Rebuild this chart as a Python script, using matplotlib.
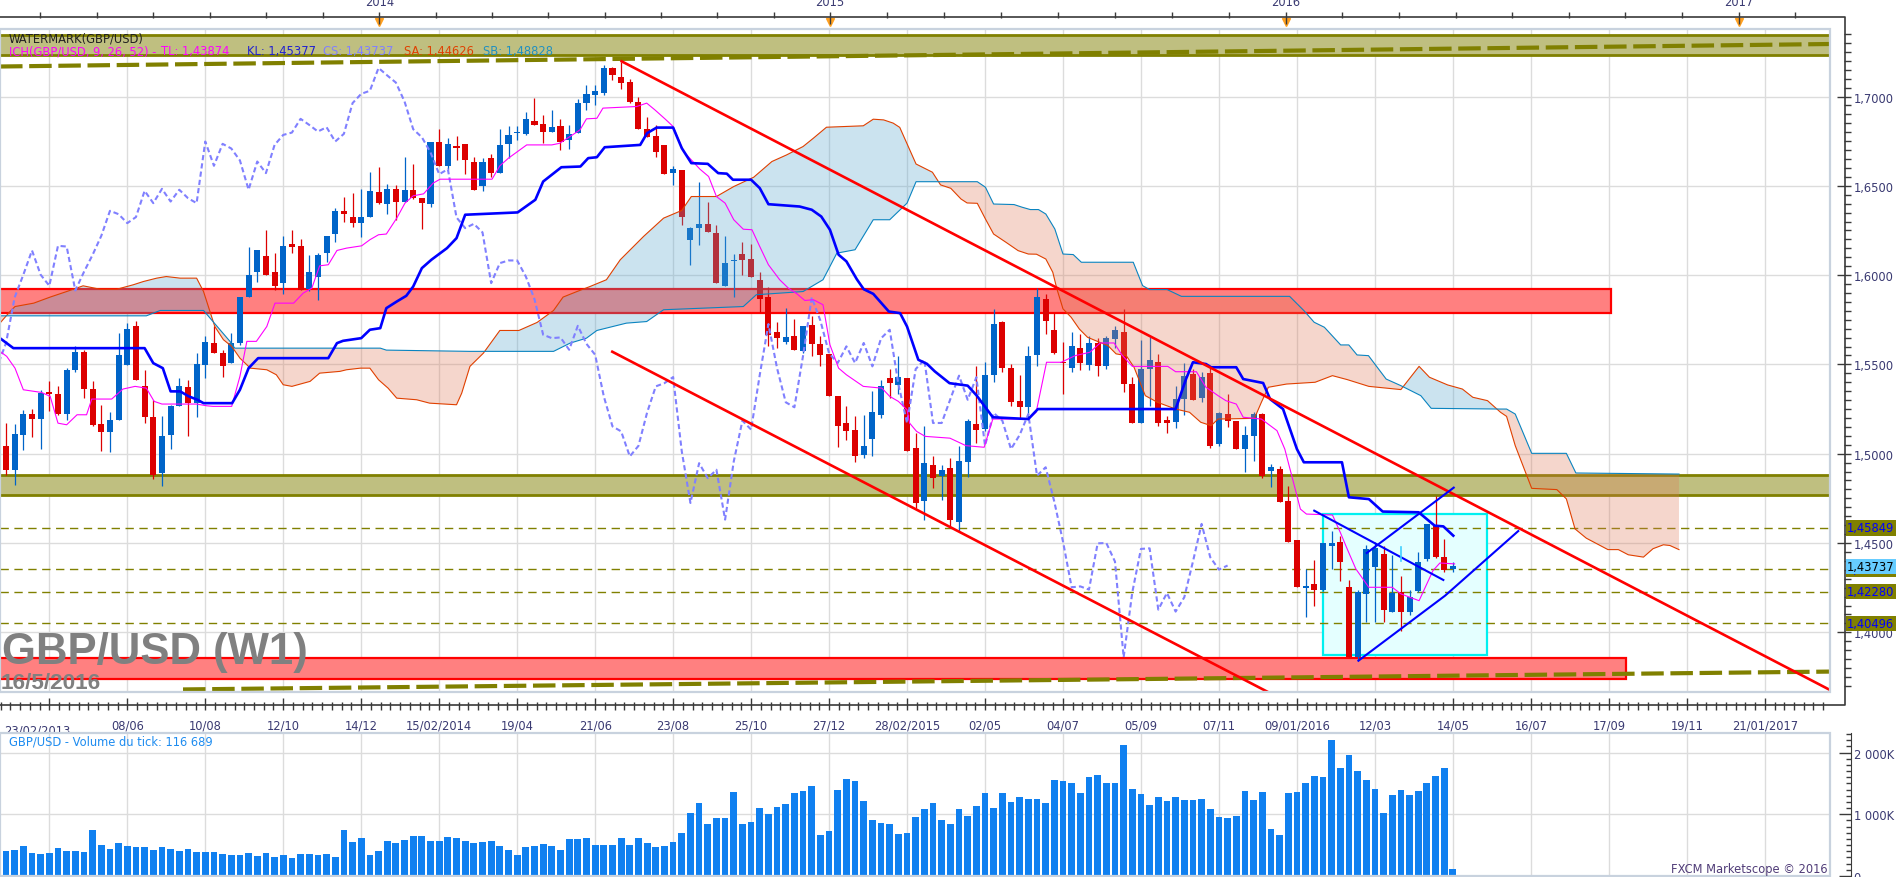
import numpy as np
import matplotlib
matplotlib.use('Agg')
import matplotlib.pyplot as plt
from matplotlib.patches import Rectangle
from matplotlib.lines import Line2D
from matplotlib.ticker import FixedLocator, FuncFormatter

# ---------------- données (bougies hebdo, index de semaine) ----------------
opens = [1.5041, 1.4906, 1.5106, 1.5224, 1.5196, 1.5343, 1.5336, 1.5224, 1.5466, 1.5567,
         1.5362, 1.5168, 1.5119, 1.5190, 1.5498, 1.5713, 1.5377, 1.5203, 1.4891, 1.5106,
         1.5265, 1.5373, 1.5283, 1.5498, 1.5619, 1.5563, 1.5507, 1.5619, 1.5875, 1.6015,
         1.6108, 1.6015, 1.5955, 1.6175, 1.6164, 1.5922, 1.5992, 1.6123, 1.6229, 1.6360,
         1.6325, 1.6291, 1.6328, 1.6464, 1.6397, 1.6483, 1.6412, 1.6474, 1.6431, 1.6399,
         1.6748, 1.6612, 1.6724, 1.6735, 1.6636, 1.6497, 1.6655, 1.6571, 1.6735, 1.6795,
         1.6791, 1.6864, 1.6845, 1.6804, 1.6836, 1.6757, 1.6798, 1.6966, 1.7009, 1.7019,
         1.7160, 1.7108, 1.7084, 1.6968, 1.6817, 1.6780, 1.6729, 1.6571, 1.6590, 1.6198,
         1.6263, 1.6287, 1.6235, 1.5940, 1.6078, 1.6119, 1.6089, 1.5970, 1.5880, 1.5681,
         1.5628, 1.5657, 1.5573, 1.5722, 1.5615, 1.5559, 1.5324, 1.5171, 1.5134, 1.4994,
         1.5082, 1.5218, 1.5423, 1.5386, 1.5423, 1.5032, 1.4733, 1.4938, 1.4873, 1.4920,
         1.4620, 1.4955, 1.5166, 1.5138, 1.5441, 1.5739, 1.5478, 1.5293, 1.5260, 1.5553,
         1.5866, 1.5694, 1.5515, 1.5478, 1.5590, 1.5497, 1.5620, 1.5493, 1.5642, 1.5680,
         1.5390, 1.5172, 1.5474, 1.5512, 1.5189, 1.5179, 1.5306, 1.5446, 1.5310, 1.5452,
         1.5054, 1.5222, 1.5185, 1.5026, 1.5101, 1.5222, 1.4905, 1.4914, 1.4737, 1.4519,
         1.4250, 1.4271, 1.4239, 1.4485, 1.4508, 1.4252, 1.3860, 1.4215, 1.4364, 1.4439,
         1.4116, 1.4228, 1.4112, 1.4233, 1.4411, 1.4601, 1.4420, 1.4355]
highs = [1.5171, 1.5167, 1.5242, 1.5252, 1.5358, 1.5405, 1.5377, 1.5480, 1.5601, 1.5582,
         1.5405, 1.5274, 1.5231, 1.5675, 1.5731, 1.5741, 1.5470, 1.5302, 1.5212, 1.5274,
         1.5423, 1.5410, 1.5563, 1.5657, 1.5713, 1.5582, 1.5675, 1.5875, 1.6160, 1.6142,
         1.6254, 1.6123, 1.6220, 1.6254, 1.6201, 1.6114, 1.6123, 1.6220, 1.6375, 1.6440,
         1.6459, 1.6483, 1.6575, 1.6603, 1.6511, 1.6505, 1.6664, 1.6623, 1.6431, 1.6748,
         1.6817, 1.6765, 1.6780, 1.6735, 1.6664, 1.6655, 1.6679, 1.6817, 1.6836, 1.6836,
         1.6916, 1.6994, 1.6897, 1.6922, 1.6875, 1.6841, 1.6985, 1.7062, 1.7065, 1.7177,
         1.7164, 1.7192, 1.7097, 1.6996, 1.6884, 1.6841, 1.6729, 1.6612, 1.6590, 1.6272,
         1.6520, 1.6409, 1.6282, 1.6220, 1.6119, 1.6183, 1.6175, 1.6020, 1.5936, 1.5735,
         1.5815, 1.5753, 1.5716, 1.5772, 1.5660, 1.5559, 1.5324, 1.5265, 1.5209, 1.5218,
         1.5349, 1.5414, 1.5474, 1.5545, 1.5423, 1.5115, 1.5153, 1.4988, 1.4938, 1.4974,
         1.5045, 1.5194, 1.5493, 1.5515, 1.5810, 1.5745, 1.5502, 1.5441, 1.5601, 1.5926,
         1.5894, 1.5788, 1.5624, 1.5680, 1.5670, 1.5657, 1.5646, 1.5657, 1.5717, 1.5810,
         1.5428, 1.5638, 1.5652, 1.5558, 1.5213, 1.5381, 1.5508, 1.5474, 1.5459, 1.5478,
         1.5235, 1.5334, 1.5185, 1.5157, 1.5235, 1.5228, 1.4942, 1.4933, 1.4817, 1.4519,
         1.4355, 1.4407, 1.4500, 1.4569, 1.4537, 1.4295, 1.4239, 1.4489, 1.4504, 1.4485,
         1.4433, 1.4313, 1.4239, 1.4448, 1.4607, 1.4765, 1.4523, 1.4392]
lows = [1.4882, 1.4826, 1.5022, 1.5091, 1.5026, 1.5237, 1.5214, 1.5190, 1.5460, 1.5311,
        1.5153, 1.5013, 1.5007, 1.5186, 1.5498, 1.5410, 1.5171, 1.4858, 1.4817, 1.5026,
        1.5265, 1.5100, 1.5205, 1.5423, 1.5563, 1.5429, 1.5507, 1.5610, 1.5875, 1.5959,
        1.6002, 1.5918, 1.5895, 1.6123, 1.5914, 1.5910, 1.5858, 1.6071, 1.6188, 1.6300,
        1.6269, 1.6216, 1.6328, 1.6397, 1.6341, 1.6310, 1.6412, 1.6425, 1.6257, 1.6384,
        1.6612, 1.6589, 1.6645, 1.6567, 1.6478, 1.6472, 1.6548, 1.6571, 1.6655, 1.6757,
        1.6782, 1.6841, 1.6739, 1.6804, 1.6698, 1.6705, 1.6798, 1.6922, 1.6953, 1.7009,
        1.7090, 1.7041, 1.6966, 1.6817, 1.6772, 1.6664, 1.6565, 1.6502, 1.6282, 1.6054,
        1.6166, 1.6239, 1.5955, 1.5940, 1.5877, 1.6002, 1.5992, 1.5796, 1.5601, 1.5591,
        1.5615, 1.5578, 1.5563, 1.5548, 1.5489, 1.5321, 1.5037, 1.5078, 1.4951, 1.4976,
        1.4985, 1.5199, 1.5311, 1.5334, 1.5013, 1.4696, 1.4630, 1.4807, 1.4742, 1.4588,
        1.4569, 1.4868, 1.5060, 1.5129, 1.5400, 1.5456, 1.5269, 1.5194, 1.5194, 1.5493,
        1.5670, 1.5558, 1.5334, 1.5456, 1.5471, 1.5471, 1.5437, 1.5474, 1.5590, 1.5344,
        1.5172, 1.5172, 1.5269, 1.5157, 1.5116, 1.5142, 1.5217, 1.5302, 1.5288, 1.5030,
        1.5045, 1.5148, 1.5026, 1.4899, 1.4961, 1.4862, 1.4812, 1.4731, 1.4504, 1.4252,
        1.4084, 1.4149, 1.4233, 1.4355, 1.4289, 1.3860, 1.3841, 1.4056, 1.4056, 1.4060,
        1.4116, 1.4009, 1.4097, 1.4224, 1.4401, 1.4414, 1.4340, 1.4336]
closes = [1.4910, 1.5110, 1.5224, 1.5196, 1.5339, 1.5332, 1.5224, 1.5470, 1.5567, 1.5362,
          1.5162, 1.5119, 1.5190, 1.5554, 1.5698, 1.5410, 1.5205, 1.4882, 1.5097, 1.5265,
          1.5380, 1.5283, 1.5503, 1.5623, 1.5563, 1.5489, 1.5619, 1.5875, 1.6002, 1.6138,
          1.6002, 1.5940, 1.6164, 1.6160, 1.5914, 1.6018, 1.6114, 1.6220, 1.6360, 1.6341,
          1.6291, 1.6325, 1.6472, 1.6403, 1.6483, 1.6412, 1.6478, 1.6431, 1.6403, 1.6748,
          1.6612, 1.6735, 1.6709, 1.6642, 1.6478, 1.6636, 1.6571, 1.6729, 1.6785, 1.6798,
          1.6875, 1.6841, 1.6804, 1.6828, 1.6748, 1.6791, 1.6963, 1.7015, 1.7032, 1.7160,
          1.7118, 1.7078, 1.6972, 1.6817, 1.6772, 1.6687, 1.6565, 1.6593, 1.6323, 1.6263,
          1.6287, 1.6239, 1.5955, 1.6067, 1.6082, 1.6082, 1.5992, 1.5865, 1.5666, 1.5647,
          1.5651, 1.5582, 1.5716, 1.5615, 1.5554, 1.5321, 1.5153, 1.5125, 1.4985, 1.5044,
          1.5231, 1.5377, 1.5395, 1.5429, 1.5013, 1.4724, 1.4947, 1.4863, 1.4910, 1.4631,
          1.4957, 1.5185, 1.5135, 1.5441, 1.5726, 1.5478, 1.5288, 1.5260, 1.5549, 1.5875,
          1.5745, 1.5562, 1.5508, 1.5601, 1.5508, 1.5620, 1.5489, 1.5646, 1.5694, 1.5390,
          1.5172, 1.5474, 1.5526, 1.5172, 1.5172, 1.5306, 1.5437, 1.5302, 1.5428, 1.5045,
          1.5228, 1.5185, 1.5026, 1.5105, 1.5222, 1.4877, 1.4924, 1.4731, 1.4508, 1.4252,
          1.4257, 1.4239, 1.4498, 1.4500, 1.4396, 1.3860, 1.4224, 1.4467, 1.4470, 1.4127,
          1.4220, 1.4116, 1.4196, 1.4396, 1.4607, 1.4420, 1.4351, 1.4374]

# volume du tick (millions), semaines -1 .. 167
volumes = [0.502,
           0.410, 0.421, 0.486, 0.373, 0.357, 0.373, 0.454, 0.405, 0.405, 0.389,
           0.751, 0.502, 0.437, 0.535, 0.486, 0.470, 0.470, 0.421, 0.470, 0.437,
           0.405, 0.437, 0.389, 0.389, 0.389, 0.357, 0.340, 0.340, 0.373, 0.324,
           0.373, 0.308, 0.340, 0.292, 0.357, 0.357, 0.340, 0.357, 0.308, 0.746,
           0.551, 0.616, 0.340, 0.405, 0.567, 0.535, 0.583, 0.648, 0.648, 0.567,
           0.567, 0.632, 0.616, 0.567, 0.535, 0.551, 0.567, 0.486, 0.421, 0.340,
           0.470, 0.486, 0.519, 0.486, 0.421, 0.600, 0.600, 0.616, 0.502, 0.502,
           0.502, 0.616, 0.502, 0.616, 0.535, 0.470, 0.486, 0.551, 0.697, 1.021,
           1.183, 0.843, 0.940, 0.940, 1.362, 0.843, 0.875, 1.102, 1.005, 1.118,
           1.167, 1.345, 1.383, 1.459, 0.665, 0.729, 1.394, 1.572, 1.540, 1.216,
           0.908, 0.859, 0.843, 0.681, 0.697, 0.956, 1.086, 1.183, 0.908, 0.843,
           1.086, 0.973, 1.135, 1.345, 1.102, 1.345, 1.200, 1.281, 1.248, 1.248,
           1.183, 1.556, 1.540, 1.507, 1.345, 1.605, 1.637, 1.507, 1.507, 2.124,
           1.410, 1.329, 1.151, 1.281, 1.216, 1.281, 1.232, 1.232, 1.248, 1.086,
           0.956, 0.940, 0.973, 1.378, 1.232, 1.362, 0.762, 0.665, 1.345, 1.362,
           1.507, 1.621, 1.605, 2.205, 1.750, 1.961, 1.702, 1.556, 1.410, 1.021,
           1.313, 1.394, 1.313, 1.378, 1.507, 1.621, 1.750, 0.117]

# Ichimoku : points lus (semaine, prix)
kijun_w = [-0.7, 0.85, 16.0, 17.0, 18.1, 19.0, 20.1, 21.1, 22.1, 22.8, 26.1, 27.0, 28.0, 29.1,
           37.2, 38.2, 38.9, 41.0, 42.0, 43.2, 43.9, 45.1, 46.2, 47.0, 48.0, 49.1, 50.9, 52.0,
           53.0, 59.05, 61.1, 62.0, 64.1, 66.3, 67.2, 68.2, 69.1, 73.2, 74.0, 75.1, 77.0, 78.0,
           79.1, 81.0, 82.2, 83.2, 83.9, 86.0, 87.0, 88.0, 91.6, 93.0, 94.1, 95.1, 96.1, 97.0,
           98.2, 99.0, 100.1, 101.9, 103.2, 104.0, 105.3, 106.3, 107.2, 108.9, 111.0, 112.05,
           113.9, 118.0, 119.1, 135.0, 136.2, 137.0, 138.5, 139.1, 142.0, 142.8, 145.1, 145.9,
           147.4, 149.0, 149.8, 154.2, 155.0, 157.3, 158.9, 163.05, 164.9, 165.9, 167.05]
kijun_v = [1.5647, 1.5591, 1.5591, 1.5507, 1.5479, 1.5349, 1.5349, 1.5321, 1.5302, 1.5283,
           1.5283, 1.5358, 1.5479, 1.5535, 1.5535, 1.5619, 1.5632, 1.5647, 1.5694, 1.5703,
           1.5815, 1.5852, 1.5884, 1.5936, 1.6039, 1.6086, 1.6151, 1.6207, 1.6338, 1.6351,
           1.6422, 1.6524, 1.6604, 1.6608, 1.6655, 1.6660, 1.6716, 1.6729, 1.6795, 1.6826,
           1.6826, 1.6711, 1.6627, 1.6623, 1.6571, 1.6568, 1.6534, 1.6534, 1.6487, 1.6397,
           1.6384, 1.6366, 1.6328, 1.6254, 1.6114, 1.6077, 1.5977, 1.5921, 1.5895, 1.5796,
           1.5787, 1.5712, 1.5526, 1.5503, 1.5461, 1.5395, 1.5381, 1.5325, 1.5204, 1.5194,
           1.5250, 1.5250, 1.5418, 1.5512, 1.5502, 1.5484, 1.5484, 1.5418, 1.5396, 1.5306,
           1.5250, 1.5026, 1.4952, 1.4952, 1.4756, 1.4746, 1.4676, 1.4672, 1.4597, 1.4593,
           1.4541]

tenkan_w = [-0.7, 0.08, 1.04, 2.0, 4.1, 5.1, 6.0, 7.0, 8.2, 9.3, 9.9, 12.2, 13.5, 14.9, 16.2,
            17.1, 18.0, 22.0, 23.2, 23.9, 26.05, 27.0, 27.8, 28.9, 30.1, 31.05, 33.2, 34.3,
            35.3, 36.2, 37.2, 38.2, 39.3, 41.05, 42.0, 43.0, 43.9, 45.1, 46.05, 47.0, 48.2,
            49.3, 50.1, 56.1, 57.0, 58.0, 60.1, 63.0, 63.9, 65.1, 66.25, 67.0, 68.2, 68.9,
            72.8, 73.95, 74.9, 76.1, 77.0, 78.2, 79.1, 80.1, 81.1, 82.0, 83.0, 84.0, 85.1,
            86.1, 87.0, 88.0, 89.3, 90.3, 91.3, 92.2, 93.2, 94.3, 95.1, 96.1, 97.0, 98.95,
            101.1, 102.0, 103.0, 104.0, 104.3, 105.1, 106.1, 108.95, 110.8, 112.9, 113.9,
            118.0, 118.9, 120.1, 121.8, 123.4, 125.1, 126.3, 127.9, 128.8, 130.0, 134.1,
            135.0, 137.4, 138.5, 139.9, 140.8, 142.0, 142.8, 144.9, 146.7, 147.6, 148.6,
            149.4, 150.1, 153.1, 154.0, 154.8, 155.8, 157.3, 160.0, 161.0, 163.1, 163.9,
            164.7, 165.5, 167.2]
tenkan_v = [1.5573, 1.5545, 1.5479, 1.5358, 1.5343, 1.5321, 1.5171, 1.5162, 1.5218, 1.5218,
            1.5306, 1.5306, 1.5362, 1.5377, 1.5367, 1.5293, 1.5278, 1.5278, 1.5268, 1.5265,
            1.5265, 1.5433, 1.5629, 1.5629, 1.5712, 1.5843, 1.5843, 1.5899, 1.5927, 1.6052,
            1.6058, 1.6138, 1.6151, 1.6164, 1.6198, 1.6226, 1.6230, 1.6319, 1.6403, 1.6444,
            1.6455, 1.6515, 1.6537, 1.6537, 1.6612, 1.6655, 1.6729, 1.6729, 1.6738, 1.6776,
            1.6813, 1.6875, 1.6878, 1.6935, 1.6944, 1.6963, 1.6925, 1.6873, 1.6832, 1.6692,
            1.6645, 1.6593, 1.6552, 1.6440, 1.6403, 1.6310, 1.6257, 1.6254, 1.6160, 1.6058,
            1.5974, 1.5927, 1.5895, 1.5858, 1.5862, 1.5834, 1.5610, 1.5479, 1.5442, 1.5377,
            1.5367, 1.5321, 1.5293, 1.5246, 1.5171, 1.5125, 1.5097, 1.5087, 1.5045, 1.5036,
            1.5194, 1.5194, 1.5232, 1.5512, 1.5512, 1.5549, 1.5568, 1.5620, 1.5620, 1.5553,
            1.5489, 1.5489, 1.5459, 1.5459, 1.5372, 1.5325, 1.5297, 1.5278, 1.5204, 1.5194,
            1.5129, 1.5026, 1.4840, 1.4690, 1.4662, 1.4657, 1.4560, 1.4467, 1.4355, 1.4252,
            1.4252, 1.4215, 1.4177, 1.4261, 1.4345, 1.4388, 1.4383]

senkou_a_w = [-0.7, 0.46, 1.04, 3.2, 5.1, 7.0, 8.9, 10.85, 12.8, 14.7, 15.85, 17.4, 18.5, 20.1,
              22.0, 22.8, 23.55, 24.1, 25.1, 26.05, 27.0, 28.2, 30.1, 31.2, 32.0, 33.0, 35.1,
              36.2, 38.55, 39.3, 40.9, 42.0, 43.0, 44.1, 45.1, 47.4, 48.9, 52.0, 52.6, 53.55,
              55.1, 57.0, 59.2, 61.3, 63.2, 64.3, 65.9, 67.4, 69.3, 70.9, 73.6, 75.9, 78.0,
              79.1, 82.0, 84.0, 86.3, 88.4, 90.1, 92.0, 93.2, 94.7, 98.95, 100.1, 101.3,
              102.4, 103.16, 105.04, 106.93, 107.87, 109.05, 110.23, 110.93, 112.11, 113.05,
              113.99, 115.41, 116.82, 118.0, 118.94, 120.02, 120.82, 121.3, 122.0, 122.94,
              123.89, 124.83, 125.77, 127.19, 128.13, 129.3, 130.2, 131.5, 132.9, 135.0,
              136.6, 137.9, 139.1, 139.9, 144.1, 144.9, 145.7, 147.8, 151.1, 153.1, 154.8,
              157.3, 161.0, 163.1, 164.3, 166.4, 168.1, 169.3, 171.0, 172.5, 173.2, 174.2,
              176.1, 179.0, 180.1, 181.1, 182.4, 184.0, 184.9, 186.1, 187.25, 189.0, 190.1,
              191.3, 192.05, 193.1]
senkou_a_v = [1.5731, 1.5796, 1.5824, 1.5843, 1.5877, 1.5908, 1.5940, 1.5921, 1.5921, 1.5946,
              1.5964, 1.5983, 1.5992, 1.5983, 1.5983, 1.5908, 1.5796, 1.5712, 1.5638, 1.5601,
              1.5535, 1.5479, 1.5470, 1.5442, 1.5386, 1.5377, 1.5405, 1.5451, 1.5461, 1.5470,
              1.5479, 1.5479, 1.5414, 1.5367, 1.5311, 1.5302, 1.5283, 1.5274, 1.5339, 1.5489,
              1.5563, 1.5690, 1.5690, 1.5735, 1.5802, 1.5877, 1.5908, 1.5936, 1.5974, 1.6086,
              1.6217, 1.6319, 1.6362, 1.6440, 1.6440, 1.6496, 1.6548, 1.6636, 1.6673, 1.6720,
              1.6767, 1.6828, 1.6836, 1.6873, 1.6869, 1.6851, 1.6827, 1.6622, 1.6576, 1.6505,
              1.6486, 1.6426, 1.6404, 1.6402, 1.6314, 1.6230, 1.6184, 1.6137, 1.6118, 1.6117,
              1.6090, 1.6016, 1.5922, 1.5811, 1.5764, 1.5698, 1.5652, 1.5633, 1.5605, 1.5559,
              1.5549, 1.5484, 1.5325, 1.5288, 1.5250, 1.5232, 1.5176, 1.5157, 1.5194, 1.5198,
              1.5288, 1.5372, 1.5390, 1.5400, 1.5437, 1.5415, 1.5377, 1.5359, 1.5489, 1.5428,
              1.5385, 1.5362, 1.5316, 1.5297, 1.5232, 1.5209, 1.5045, 1.4806, 1.4799, 1.4747,
              1.4579, 1.4527, 1.4486, 1.4463, 1.4463, 1.4434, 1.4421, 1.4468, 1.4490, 1.4486,
              1.4463]

senkou_b_w = [-0.7, 16.2, 17.8, 22.8, 24.7, 25.85, 26.4, 43.2, 43.9, 53.55, 63.2, 65.1, 67.0,
              68.2, 71.6, 73.95, 75.9, 85.1, 86.6, 92.0, 94.3, 95.9, 98.0, 100.1, 102.0,
              104.0, 105.04, 112.11, 113.05, 113.99, 116.35, 117.29, 118.23, 119.17, 120.02,
              121.06, 122.0, 123.18, 124.12, 130.11, 131.19, 131.99, 134.02, 135.67, 148.16,
              149.81, 150.99, 152.17, 154.05, 154.99, 155.94, 157.26, 159.3, 161.0, 163.3,
              164.5, 172.5, 173.2, 174.2, 176.1, 180.1, 181.2, 193.1]
senkou_b_v = [1.5772, 1.5772, 1.5802, 1.5802, 1.5694, 1.5629, 1.5591, 1.5591, 1.5580, 1.5573,
              1.5573, 1.5619, 1.5647, 1.5690, 1.5731, 1.5740, 1.5806, 1.5824, 1.5890, 1.5908,
              1.5974, 1.6123, 1.6142, 1.6310, 1.6310, 1.6403, 1.6523, 1.6523, 1.6492, 1.6398,
              1.6395, 1.6380, 1.6367, 1.6367, 1.6342, 1.6258, 1.6118, 1.6115, 1.6072, 1.6072,
              1.5941, 1.5919, 1.5919, 1.5881, 1.5881, 1.5801, 1.5736, 1.5708, 1.5609, 1.5609,
              1.5553, 1.5549, 1.5418, 1.5381, 1.5325, 1.5254, 1.5250, 1.5250, 1.5222, 1.5002,
              1.5002, 1.4892, 1.4886]

# tracés manuels (semaine, prix)
band_top = (1.7233, 1.7345)
band_mid = (1.4769, 1.4882)
red_high = (1.5786, 1.5920, 185.25)
red_low = (1.3741, 1.3857, 186.98)
hlevels = [1.45849, 1.4354, 1.42280, 1.40496]
trend_up_w, trend_up_p = [71.06, 210.45], [1.7197, 1.3679]
trend_lo_w, trend_lo_p = [69.98, 145.6], [1.5571, 1.3667]
wedge1_w, wedge1_p = [151.0, 165.9], [1.4681, 1.4293]
wedge2_w, wedge2_p = [157.06, 167.1], [1.4444, 1.4810]
wedge3_w, wedge3_p = [156.1, 166.1, 174.55], [1.3841, 1.4205, 1.4567]
box_w, box_p = (152.0, 170.97), (1.3873, 1.4662)
olive_up_w, olive_up_p = [-0.69, 210.53], [1.7168, 1.7294]
olive_lo_w, olive_lo_p = [20.43, 210.53], [1.3680, 1.3780]

date_labels = ['', '08/06', '10/08', '12/10', '14/12', '15/02/2014', '19/04', '21/06', '23/08',
               '25/10', '27/12', '28/02/2015', '02/05', '04/07', '05/09', '07/11', '09/01/2016',
               '12/03', '14/05', '16/07', '17/09', '19/11', '21/01/2017']
year_labels = ['2014', '2015', '2016', '2017']
year_w = [43.1, 95.1, 147.7, 200.0]

# ---------------- figure ----------------
W, H = 1903, 878
fig = plt.figure(figsize=(W / 100, H / 100), dpi=100)
fig.patch.set_facecolor('white')

def fx(px):
    return px / W

def fy(py):
    return 1 - py / H

ax = fig.add_axes([0, fy(693), fx(1830), (693 - 30) / H])
axv = fig.add_axes([0, fy(877), fx(1830), (877 - 734) / H], sharex=ax)

XMIN, XMAX = -0.6925, 210.53
ax.set_xlim(XMIN, XMAX)
ax.set_ylim(1.36657, 1.73780)
axv.set_ylim(0, (877 - 734) / 61.7)

UP, DN = '#0064C8', '#DC0000'
OLIVE = '#808000'
TICKC = '#3A3A3A'
LABC = '#3A3A72'
FS = 8.3

# grilles
major_w = 5 + 9 * np.arange(len(date_labels))
for a in (ax, axv):
    a.set_axisbelow(True)
    a.grid(True, color='#DCDCDC', lw=1)
ax.xaxis.set_major_locator(FixedLocator(major_w))
ax.xaxis.set_minor_locator(FixedLocator(np.arange(5 - 9, 212, 9 / 8)))
ax.xaxis.set_major_formatter(FuncFormatter(lambda v, p: date_labels[int(round((v - 5) / 9))]
                                           if 0 <= round((v - 5) / 9) < len(date_labels) else ''))
ax.yaxis.set_major_locator(FixedLocator(np.arange(1.40, 1.7001, 0.05)))
ax.yaxis.set_minor_locator(FixedLocator(np.arange(1.37, 1.7376, 0.005)))
ax.yaxis.set_major_formatter(FuncFormatter(lambda v, p: f'{v:.4f}'.replace('.', ',')))

# bandes
ax.axhspan(*band_top, color='#BFBF80', lw=0, zorder=1)
for yy in band_top:
    ax.axhline(yy, color=OLIVE, lw=2, zorder=1.2)
ax.axhspan(*band_mid, color='#BFBF80', lw=0, zorder=1)
for yy in band_mid:
    ax.axhline(yy, color=OLIVE, lw=2, zorder=1.2)
for lo, hi, xr in (red_high, red_low):
    ax.add_patch(Rectangle((XMIN - 1, lo), xr - XMIN + 1, hi - lo, fc='#FF8080', ec='#FF0000',
                           lw=1.6, zorder=1))
ax.add_patch(Rectangle((box_w[0], box_p[0]), box_w[1] - box_w[0], box_p[1] - box_p[0],
                       fc='#E4FFFF', ec='#00F0F0', lw=1.6, zorder=1.5))

for lv in hlevels:
    ax.axhline(lv, color=OLIVE, lw=1, ls=(0, (6, 4)), zorder=2)
ax.plot(olive_up_w, olive_up_p, color=OLIVE, lw=3, ls=(0, (5.4, 1.6)), zorder=2)
ax.plot(olive_lo_w, olive_lo_p, color=OLIVE, lw=3, ls=(0, (5.4, 1.6)), zorder=2)

# bougies
o, h, l, c = map(np.array, (opens, highs, lows, closes))
wk = np.arange(len(o))
col = np.where(c >= o, UP, DN)
ax.vlines(wk, l, h, colors=col, lw=0.9, zorder=3)
ax.bar(wk, np.maximum(np.abs(c - o), 0.0008), bottom=np.minimum(o, c), width=0.7,
       color=col, lw=0, zorder=3)

# nuage
gx = np.union1d(senkou_a_w, senkou_b_w)
ga = np.interp(gx, senkou_a_w, senkou_a_v)
gb = np.interp(gx, senkou_b_w, senkou_b_v)
ax.fill_between(gx, ga, gb, where=ga >= gb, interpolate=True, color='#55A5CD', alpha=0.3,
                lw=0, zorder=3.5)
ax.fill_between(gx, ga, gb, where=ga < gb, interpolate=True, color='#DE7A58', alpha=0.3,
                lw=0, zorder=3.5)
ax.plot(senkou_a_w, senkou_a_v, color='#E04000', lw=0.8, zorder=4)
ax.plot(senkou_b_w, senkou_b_v, color='#0A84C0', lw=0.8, zorder=4)

# chikou = clôtures décalées de 26 semaines
ax.plot(wk[25:] - 26, c[25:], color='#8080FF', lw=1.5, ls=(0, (2.5, 1.5)), zorder=4)
ax.plot(tenkan_w, tenkan_v, color='#FF00FF', lw=0.8, zorder=4.2)
ax.plot(kijun_w, kijun_v, color='#0000FF', lw=1.9, zorder=4.3)

# lignes de tendance
ax.plot(trend_up_w, trend_up_p, color='#FF0000', lw=1.9, zorder=5)
ax.plot(trend_lo_w, trend_lo_p, color='#FF0000', lw=1.9, zorder=5)
for ww, pp in ((wedge1_w, wedge1_p), (wedge2_w, wedge2_p), (wedge3_w, wedge3_p)):
    ax.plot(ww, pp, color='#0000FF', lw=1.5, zorder=5)
ax.plot([161.0, 161.0], [1.4401, 1.4480], color='#40D0FF', lw=1.2, zorder=5)

# volume
vw = np.arange(-1, len(volumes) - 1)
axv.bar(vw, volumes, width=0.78, color='#1080F0', lw=0, zorder=3)
axv.yaxis.set_major_locator(FixedLocator([0, 1, 2]))
axv.yaxis.set_minor_locator(FixedLocator(np.arange(0, 2.32, 0.1)))
axv.yaxis.set_major_formatter(FuncFormatter(lambda v, p: {0: '0', 1: '1 000K', 2: '2 000K'}.get(int(round(v)), '')))

# axes / ticks
for a in (ax, axv):
    a.yaxis.tick_right()
    a.spines['right'].set_position(('outward', 15))
    for s in ('left', 'top', 'bottom', 'right'):
        a.spines[s].set_visible(False)
    a.add_patch(Rectangle((0, 0), 1, 1, transform=a.transAxes, fill=False, ec='#C8D2DE',
                          lw=1.6, clip_on=False, zorder=6))
ax.spines['bottom'].set_position(('outward', 13))
ax.tick_params(axis='y', which='major', direction='in', length=10, width=1, color=TICKC,
               labelsize=FS, labelcolor=LABC, pad=2, right=True, left=False)
ax.tick_params(axis='y', which='minor', direction='in', length=5, width=1, color=TICKC, right=True, left=False)
ax.tick_params(axis='x', which='major', direction='in', length=9, width=1, color=TICKC,
               labelsize=FS, labelcolor=LABC, pad=6)
ax.tick_params(axis='x', which='minor', direction='in', length=5.5, width=1, color=TICKC)
axv.tick_params(axis='y', which='major', direction='in', length=9, width=1, color=TICKC,
                labelsize=FS, labelcolor=LABC, pad=2)
axv.tick_params(axis='y', which='minor', direction='in', length=3.5, width=1, color=TICKC)
axv.tick_params(axis='x', which='both', bottom=False, labelbottom=False)
axv.spines['right'].set_visible(True)
axv.spines['right'].set_color(TICKC)

# axe des années en haut
ax2 = ax.twiny()
ax2.set_xlim(XMIN, XMAX)
for s in ('left', 'right', 'bottom', 'top'):
    ax2.spines[s].set_visible(False)
ax2.spines['top'].set_position(('outward', 12))
ax2.set_xticks(year_w)
ax2.set_xticklabels(year_labels)
top_minor = [year_w[0] - k * 6.527 for k in range(1, 8)]
for a0, a1 in zip(year_w[:-1], year_w[1:]):
    top_minor += [a0 + (a1 - a0) * k / 8 for k in range(1, 8)]
top_minor += [year_w[-1] + 6.52]
ax2.xaxis.set_minor_locator(FixedLocator(top_minor))
ax2.tick_params(axis='x', which='major', direction='in', length=8.6, width=1, color=TICKC,
                labelsize=FS, labelcolor=LABC, pad=3)
ax2.tick_params(axis='x', which='minor', direction='in', length=4.3, width=1, color=TICKC)
ax.plot(year_w, [1.0105] * 4, transform=ax.get_xaxis_transform(), ls='none', marker='v',
        ms=6, color='#FFA020', mec='#FFA020', clip_on=False, zorder=8)

# lignes d'axe sombres
fig.add_artist(Line2D([0, fx(1845), fx(1845), 0], [fy(18), fy(18), fy(706), fy(706)],
                      color=TICKC, lw=1.2))

ax.text(0.002, -0.058, '23/02/2013', transform=ax.transAxes, fontsize=FS, color=LABC,
        ha='left', va='center')

# étiquettes de niveaux à droite
for lv, txt, fcol, tcol in [(1.45849, '1,45849', OLIVE, '#0000FF'),
                            (1.4354, '1,43737', OLIVE, '#0000FF'),
                            (1.43690, '1,43737', '#66CCFF', '#000000'),
                            (1.42280, '1,42280', OLIVE, '#0000FF'),
                            (1.40496, '1,40496', OLIVE, '#0000FF')]:
    ax.annotate(txt, xy=(fx(1847), lv), xycoords=('figure fraction', 'data'), ha='left',
                va='center', fontsize=FS, color=tcol, annotation_clip=False, zorder=10,
                bbox=dict(boxstyle='square,pad=0.12', fc=fcol, ec='none'))

# textes
fig.text(fx(9), fy(39.5), 'WATERMARK(GBP/USD)', fontsize=FS, color='#202020', va='center')
for xp, txt, cc in [(9, 'ICH(GBP/USD, 9, 26, 52) -', '#FF00FF'), (161, 'TL: 1,43874', '#FF00FF'),
                    (247, 'KL: 1,45377', '#2020D0'), (323, 'CS: 1,43737', '#8080FF'),
                    (404, 'SA: 1,44626', '#E04000'), (483, 'SB: 1,48828', '#2090C0')]:
    fig.text(fx(xp), fy(51.7), txt, fontsize=FS, color=cc, va='center')

fig.text(fx(1.5), fy(664), 'GBP/USD (W1)', fontsize=31.5, fontweight='bold', color='#808080',
         family='Liberation Sans', va='baseline', zorder=10)
fig.text(fx(1), fy(689.5), '16/5/2016', fontsize=16.2, fontweight='bold', color='#808080',
         family='Liberation Sans', va='baseline', zorder=10)
fig.text(fx(9), fy(742), 'GBP/USD - Volume du tick: 116 689', fontsize=FS, color='#1E8CF0',
         va='center')
fig.text(fx(1828), fy(870), 'FXCM Marketscope \u00a9 2016', fontsize=FS, color='#503C78',
         va='center', ha='right')

fig.savefig('out.png', dpi=100)
